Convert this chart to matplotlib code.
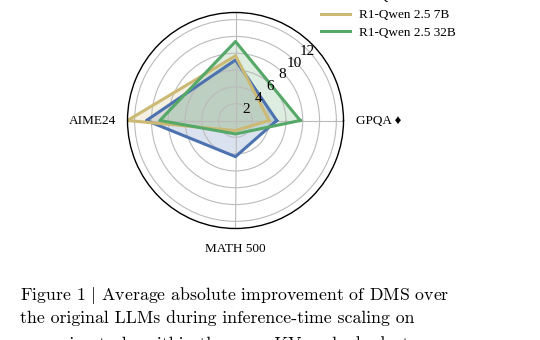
import numpy as np
import matplotlib
matplotlib.use("Agg")
import matplotlib.pyplot as plt

plt.rcParams['mathtext.fontset'] = 'cm'

# data (absolute improvement, points)
categories = ["GPQA \u2666", "LiveCodeBench", "AIME24", "MATH 500"]
models = ["R1-Qwen 2.5 1.5B", "R1-Qwen 2.5 7B", "R1-Qwen 2.5 32B"]
qwen_1_5b = [4.9, 7.2, 10.6, 4.3]
qwen_7b = [4.0, 7.7, 12.85, 1.2]
qwen_32b = [7.7, 9.4, 9.0, 1.6]
colors = ["#4C72B0", "#CCB974", "#55A868"]
rticks = [2, 4, 6, 8, 10, 12]

caption = ["Figure 1 $|$ Average absolute improvement of DMS over",
           "the original LLMs during inference-time scaling on",
           "reasoning tasks within the same KV cache budget."]
caption_y = [295, 318.5, 344]

serif = ["Liberation Serif", "DejaVu Sans"]

fig = plt.figure(figsize=(5.4, 3.4), dpi=100)
cx, cy, rad = 235.5, 120.5, 108.0
ax = fig.add_axes([(cx - rad) / 540, (340 - cy - rad) / 340, 2 * rad / 540, 2 * rad / 340],
                  projection="polar")

theta = np.linspace(0, 2 * np.pi, len(categories), endpoint=False)
for vals, col, name in zip([qwen_1_5b, qwen_7b, qwen_32b], colors, models):
    v = np.concatenate([vals, vals[:1]])
    t = np.concatenate([theta, theta[:1]])
    ax.plot(t, v, color=col, lw=2.2, label=name)
    ax.fill(t, v, color=col, alpha=0.2)

rmax = 12.85
ax.set_ylim(0, rmax)
ax.set_yticks(rticks)
ax.set_yticklabels([])
for r in rticks:
    ax.text(np.deg2rad(44), r - 0.2, str(r), fontfamily=serif, fontsize=11,
            ha="center", va="center")

ax.set_xticks(theta)
ax.set_xticklabels([])
# category labels just outside the outer ring
offsets = {0: ((9, 0), "left", "center"), 1: ((0, 12), "center", "bottom"),
           2: ((-8, 0), "right", "center"), 3: ((0, -14.5), "center", "center")}
for i, (t, lab) in enumerate(zip(theta, categories)):
    off, ha, va = offsets[i]
    ax.annotate(lab, xy=(t, rmax), xytext=off, textcoords="offset points",
                ha=ha, va=va, fontfamily=serif, fontsize=9.5, annotation_clip=False)

ax.grid(color="#bbbbbb", lw=0.8)
ax.spines["polar"].set_color("black")
ax.spines["polar"].set_linewidth(1.0)

fig.legend(loc="upper left", bbox_to_anchor=(321 / 540, 1.026), frameon=False,
           borderpad=0, borderaxespad=0, handlelength=2.2, handletextpad=0.7,
           labelspacing=0.42, prop={"family": serif, "size": 9.5})

for y, line in zip(caption_y, caption):
    fig.text(20 / 540, 1 - y / 340, line, fontfamily="cmr10",
             fontsize=12.8, va="center", ha="left")

fig.savefig("out.png", dpi=100)
